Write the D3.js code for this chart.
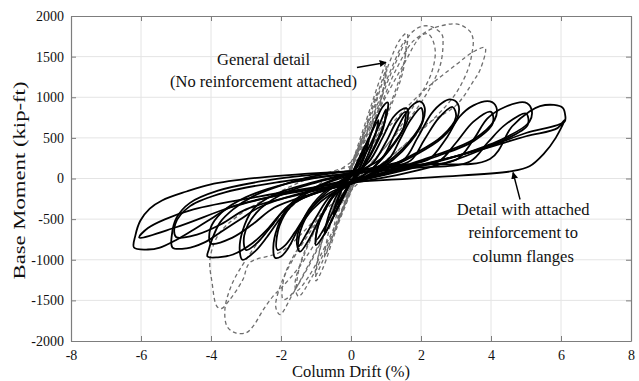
<!DOCTYPE html>
<html>
<head>
<meta charset="utf-8">
<script src="https://cdn.jsdelivr.net/npm/d3@7"></script>
<style>
  html, body { margin: 0; padding: 0; background: #fff; }
  svg { display: block; font-family: "Liberation Serif", "Times New Roman", serif; }
</style>
</head>
<body>
<svg id="chart" width="639" height="381"></svg>
<script>
const xTicks = [-8, -6, -4, -2, 0, 2, 4, 6, 8];
const yTicks = [-2000, -1500, -1000, -500, 0, 500, 1000, 1500, 2000];

// detail with attached reinforcement: [drift %, moment kip-ft], one array per cycle
const reinforcedCycles = [
  [[0,20],[0.2,190],[0.38,330],[0.3,180],[0.1,30],[0,-30],[-0.2,-180],[-0.38,-310],[-0.3,-170],[-0.1,-20],[0,20]],
  [[0,30],[0.25,260],[0.5,470],[0.4,280],[0.15,60],[0,-40],[-0.25,-250],[-0.5,-440],[-0.4,-270],[-0.15,-50],[0,30]],
  [[0,30],[0.4,400],[0.78,720],[0.65,480],[0.3,130],[0,-40],[-0.4,-380],[-0.75,-680],[-0.62,-430],[-0.25,-90],[0,30]],
  [[0,40],[0.4,350],[0.7,700],[0.9,880],[1.05,935],[0.98,720],[0.65,380],[0.25,80],[0,-50],[-0.4,-380],[-0.75,-680],[-1.0,-820],[-0.95,-600],[-0.6,-280],[-0.2,-40],[0,40]],
  [[0,20],[0.45,330],[0.8,650],[1.0,850],[0.92,620],[0.55,280],[0.2,40],[0,-40],[-0.45,-360],[-0.8,-640],[-1.0,-760],[-0.9,-520],[-0.5,-200],[0,20]],
  [[0,50],[0.5,200],[0.9,500],[1.2,750],[1.45,850],[1.6,860],[1.6,700],[1.2,420],[0.6,120],[0,-60],[-0.5,-220],[-0.9,-500],[-1.2,-750],[-1.46,-900],[-1.55,-760],[-1.3,-450],[-0.8,-180],[0,50]],
  [[0,30],[0.6,180],[1.0,450],[1.3,700],[1.55,820],[1.5,620],[1.1,350],[0.5,80],[0,-40],[-0.6,-220],[-1.0,-480],[-1.3,-700],[-1.5,-840],[-1.45,-650],[-1.1,-350],[-0.5,-100],[0,30]],
  [[0,60],[0.5,150],[0.9,260],[1.2,500],[1.5,760],[1.75,900],[1.97,948],[2.1,880],[2.05,700],[1.7,450],[1.2,230],[0.5,30],[0,-70],[-0.6,-200],[-1.1,-380],[-1.5,-620],[-1.8,-860],[-2.0,-960],[-2.17,-975],[-2.22,-850],[-2.1,-600],[-1.8,-350],[-1.3,-170],[-0.6,-30],[0,60]],
  [[0,40],[0.7,130],[1.1,250],[1.4,480],[1.7,720],[2.0,870],[2.05,720],[1.7,470],[1.1,220],[0.4,20],[0,-60],[-0.7,-200],[-1.2,-400],[-1.6,-660],[-1.9,-830],[-2.1,-880],[-2.12,-720],[-1.9,-450],[-1.4,-220],[-0.7,-60],[0,40]],
  [[0,70],[0.8,150],[1.5,230],[1.9,500],[2.3,800],[2.6,930],[2.83,973],[3.05,920],[3.05,760],[2.6,500],[1.8,280],[0.8,80],[0,-40],[-1.0,-170],[-1.6,-300],[-2.0,-480],[-2.4,-720],[-2.75,-900],[-3.1,-1000],[-3.18,-880],[-3.1,-650],[-2.8,-380],[-2.2,-200],[-1.2,-60],[0,70]],
  [[0,50],[1.0,130],[1.7,220],[2.1,480],[2.5,740],[2.9,880],[3.0,760],[2.6,520],[1.8,300],[0.8,90],[0,-50],[-1.0,-180],[-1.8,-340],[-2.3,-600],[-2.7,-800],[-3.0,-880],[-3.05,-700],[-2.7,-420],[-2.0,-200],[-1.0,-50],[0,50]],
  [[0,90],[1.2,160],[2.2,230],[2.7,480],[3.1,760],[3.5,900],[3.97,948],[4.15,880],[4.1,720],[3.5,480],[2.5,300],[1.2,110],[0,-50],[-1.0,-180],[-1.6,-280],[-2.0,-430],[-2.4,-630],[-2.8,-790],[-3.37,-935],[-3.8,-970],[-4.1,-960],[-4.06,-870],[-3.97,-750],[-3.74,-540],[-3.37,-380],[-2.8,-220],[-2.1,-100],[-1.09,25],[0,90]],
  [[0,70],[1.4,130],[2.5,210],[3.0,440],[3.5,700],[4.0,820],[4.05,680],[3.5,460],[2.5,280],[1.2,100],[0,-60],[-1.2,-200],[-2.2,-360],[-2.8,-560],[-3.4,-730],[-4.0,-800],[-4.02,-620],[-3.7,-420],[-3.0,-230],[-1.8,-60],[0,70]],
  [[0,90],[1.5,160],[3.0,230],[3.5,480],[3.9,740],[4.4,880],[4.97,936],[5.15,860],[5.1,700],[4.4,500],[3.2,300],[1.5,100],[0,-50],[-1.5,-190],[-2.6,-350],[-3.17,-505],[-3.74,-665],[-4.2,-790],[-4.7,-860],[-5.1,-850],[-5.12,-700],[-4.98,-480],[-4.6,-300],[-3.8,-150],[-2.5,-30],[-1,50],[0,90]],
  [[0,60],[1.8,130],[3.4,210],[3.9,440],[4.4,660],[5.0,800],[5.05,660],[4.4,480],[3.2,300],[1.5,110],[0,-50],[-1.6,-210],[-3.0,-380],[-3.7,-560],[-4.4,-690],[-5.0,-720],[-5.02,-560],[-4.6,-340],[-3.6,-170],[-2,-40],[0,60]],
  [[0,90],[2,170],[3.97,240],[4.6,640],[5.1,825],[5.4,890],[5.8,905],[6.05,870],[6.12,780],[6.1,700],[5,560],[4,400],[3,233],[1.5,60],[0,-60],[-2,-200],[-3.46,-357],[-4.03,-505],[-4.5,-630],[-4.97,-750],[-5.46,-850],[-5.8,-874],[-6.2,-850],[-6.16,-700],[-6.02,-520],[-5.75,-370],[-5.4,-270],[-4.7,-160],[-4.03,-74],[-2.6,12],[0,90]],
  [[0,-40],[2.5,20],[4.6,90],[5.1,150],[5.5,300],[5.85,500],[6.1,720],[5.9,620],[5.0,520],[3.5,330],[1.5,120],[0,-10],[-2.6,-258],[-3.46,-357],[-5,-600],[-6.05,-726],[-5.8,-610],[-5.3,-500],[-4.5,-380],[-2.6,-220],[0,-40]]
];

// general detail (no reinforcement attached)
const generalCycles = [
  [[0,80],[0.2,330],[0.38,520],[0.3,340],[0.1,90],[0,-60],[-0.2,-310],[-0.38,-500],[-0.3,-320],[-0.1,-70],[0,80]],
  [[0,100],[0.25,420],[0.5,700],[0.4,460],[0.12,120],[0,-80],[-0.25,-400],[-0.5,-660],[-0.4,-430],[-0.12,-100],[0,100]],
  [[0,120],[0.4,620],[0.75,1050],[0.62,700],[0.25,200],[0,-100],[-0.4,-560],[-0.75,-960],[-0.62,-620],[-0.25,-160],[0,120]],
  [[0,150],[0.5,800],[0.85,1250],[1.0,1420],[0.9,1050],[0.5,450],[0.1,-50],[-0.4,-600],[-0.8,-1100],[-1.0,-1260],[-0.9,-900],[-0.5,-350],[0,150]],
  [[0,120],[0.55,780],[1.02,1350],[0.85,950],[0.4,350],[0,-120],[-0.55,-740],[-1.02,-1200],[-0.85,-800],[-0.4,-250],[0,120]],
  [[0,150],[0.6,800],[1.1,1430],[1.4,1710],[1.6,1790],[1.55,1500],[1.2,1000],[0.6,400],[0,-150],[-0.6,-750],[-1.1,-1200],[-1.5,-1450],[-1.6,-1300],[-1.3,-900],[-0.7,-350],[0,150]],
  [[0,100],[0.7,850],[1.2,1400],[1.55,1700],[1.5,1350],[1.1,850],[0.5,300],[0,-150],[-0.7,-800],[-1.2,-1200],[-1.54,-1380],[-1.45,-1050],[-1.0,-600],[-0.5,-200],[0,100]],
  [[0,150],[0.6,700],[1.2,1350],[1.7,1780],[2.0,1870],[2.3,1870],[2.6,1770],[2.63,1670],[2.54,1380],[2.1,1000],[1.5,650],[0.8,300],[0,-100],[-0.6,-550],[-1.2,-1050],[-1.7,-1450],[-2.03,-1675],[-2.15,-1580],[-2.0,-1300],[-1.6,-950],[-1.0,-550],[-0.4,-150],[0,150]],
  [[0,120],[0.7,750],[1.3,1350],[1.8,1700],[2.2,1780],[2.4,1600],[2.3,1300],[1.8,900],[1.1,450],[0.4,100],[0,-100],[-0.7,-650],[-1.3,-1150],[-1.75,-1450],[-1.94,-1490],[-1.9,-1200],[-1.5,-850],[-0.8,-400],[0,120]],
  [[0,200],[0.8,850],[1.5,1400],[2.06,1780],[2.74,1895],[3.1,1895],[3.4,1810],[3.49,1710],[3.46,1550],[3.34,1340],[3.0,1050],[2.4,750],[1.5,400],[0.5,50],[0,-150],[-0.8,-650],[-1.5,-1100],[-2.0,-1350],[-2.23,-1450],[-2.5,-1612],[-2.8,-1820],[-3.0,-1900],[-3.3,-1900],[-3.54,-1820],[-3.6,-1600],[-3.4,-1300],[-3.0,-1000],[-2.3,-600],[-1.3,-200],[0,200]],
  [[0,150],[1,600],[2,1050],[3,1400],[3.5,1560],[3.83,1610],[3.7,1350],[3.5,1200],[3.0,900],[2.06,640],[1.6,443],[0.8,150],[0,-100],[-1,-500],[-2,-900],[-2.89,-1036],[-3.09,-1245],[-3.46,-1490],[-3.7,-1600],[-3.83,-1575],[-3.97,-1280],[-4.03,-1000],[-3.8,-700],[-3.2,-450],[-2.2,-200],[-1.2,0],[0,150]]
];

const notes = [
  { lines: ['General detail', '(No reinforcement attached)'], x: -2.5, y: 1400, dy: 22 },
  { lines: ['Detail with attached', 'reinforcement to', 'column flanges'], x: 4.92, y: -445, dy: 23.5 }
];
const arrows = [
  { from: [0.17, 1366], to: [1.0, 1428] },
  { from: [4.83, -258], to: [4.63, 74] }
];

const margin = { top: 16, right: 8, bottom: 40, left: 71 };
const width = 639;
const height = 381;

const svg = d3.select('#chart');

const x = d3.scaleLinear().domain([-8, 8]).range([margin.left, width - margin.right]);
const y = d3.scaleLinear().domain([-2000, 2000]).range([height - margin.bottom, margin.top]);

const axisColor = '#7d7d7d';

// grid
svg.append('g')
  .selectAll('line')
  .data(xTicks.slice(1, -1))
  .join('line')
  .attr('x1', (d) => x(d)).attr('x2', (d) => x(d))
  .attr('y1', y(2000)).attr('y2', y(-2000))
  .attr('stroke', '#e4e4e4');

svg.append('g')
  .selectAll('line')
  .data(yTicks.slice(1, -1))
  .join('line')
  .attr('y1', (d) => y(d)).attr('y2', (d) => y(d))
  .attr('x1', x(-8)).attr('x2', x(8))
  .attr('stroke', '#e4e4e4');

const line = d3.line()
  .x((d) => x(d[0]))
  .y((d) => y(d[1]))
  .curve(d3.curveCatmullRom.alpha(0.5));

svg.append('g')
  .selectAll('path')
  .data(generalCycles)
  .join('path')
  .attr('d', line)
  .attr('fill', 'none')
  .attr('stroke', '#6e6e6e')
  .attr('stroke-width', 1.3)
  .attr('stroke-dasharray', '4,3');

svg.append('g')
  .selectAll('path')
  .data(reinforcedCycles)
  .join('path')
  .attr('d', line)
  .attr('fill', 'none')
  .attr('stroke', '#000')
  .attr('stroke-width', 1.8)
  .attr('stroke-linejoin', 'round');

// axes (box with inward ticks)
const tickSize = 5;
const fmt = (d) => String(d);

const gx = svg.append('g')
  .attr('transform', `translate(0,${y(-2000)})`)
  .call(d3.axisBottom(x).tickValues(xTicks).tickSizeInner(-tickSize).tickSizeOuter(0).tickPadding(9).tickFormat(fmt));
const gy = svg.append('g')
  .attr('transform', `translate(${x(-8)},0)`)
  .call(d3.axisLeft(y).tickValues(yTicks).tickSizeInner(-tickSize).tickSizeOuter(0).tickPadding(7).tickFormat(fmt));
const gt = svg.append('g')
  .attr('transform', `translate(0,${y(2000)})`)
  .call(d3.axisTop(x).tickValues(xTicks).tickSizeInner(-tickSize).tickSizeOuter(0).tickFormat(''));
const gr = svg.append('g')
  .attr('transform', `translate(${x(8)},0)`)
  .call(d3.axisRight(y).tickValues(yTicks).tickSizeInner(-tickSize).tickSizeOuter(0).tickFormat(''));

[gx, gy, gt, gr].forEach((g) => {
  g.select('.domain').attr('stroke', axisColor).attr('stroke-width', 1.2);
  g.selectAll('.tick line').attr('stroke', axisColor);
  g.selectAll('.tick text')
    .attr('fill', '#111')
    .style('font-family', '"Liberation Serif", serif')
    .style('font-size', '14px');
});

svg.append('text')
  .attr('x', x(0))
  .attr('y', 377)
  .attr('text-anchor', 'middle')
  .attr('fill', '#111')
  .style('font-size', '16.5px')
  .text('Column Drift (%)');

svg.append('text')
  .attr('transform', `translate(25,${y(0) + 2}) rotate(-90)`)
  .attr('text-anchor', 'middle')
  .attr('fill', '#111')
  .attr('textLength', 198)
  .attr('lengthAdjust', 'spacingAndGlyphs')
  .style('font-size', '16.5px')
  .text('Base Moment (kip-ft)');

// annotations
svg.append('defs')
  .append('marker')
  .attr('id', 'head')
  .attr('viewBox', '0 0 10 10')
  .attr('refX', 9)
  .attr('refY', 5)
  .attr('markerWidth', 7)
  .attr('markerHeight', 7)
  .attr('markerUnits', 'userSpaceOnUse')
  .attr('orient', 'auto')
  .append('path')
  .attr('d', 'M0,0L10,5L0,10z')
  .attr('fill', '#000');

svg.append('g')
  .selectAll('line')
  .data(arrows)
  .join('line')
  .attr('x1', (d) => x(d.from[0])).attr('y1', (d) => y(d.from[1]))
  .attr('x2', (d) => x(d.to[0])).attr('y2', (d) => y(d.to[1]))
  .attr('stroke', '#000')
  .attr('stroke-width', 1.4)
  .attr('marker-end', 'url(#head)');

notes.forEach((n) => {
  const t = svg.append('text')
    .attr('text-anchor', 'middle')
    .attr('fill', '#111')
    .style('font-size', '16.5px');
  n.lines.forEach((s, i) => {
    t.append('tspan')
      .attr('x', x(n.x))
      .attr('y', y(n.y) + i * n.dy)
      .text(s);
  });
});
</script>
</body>
</html>
